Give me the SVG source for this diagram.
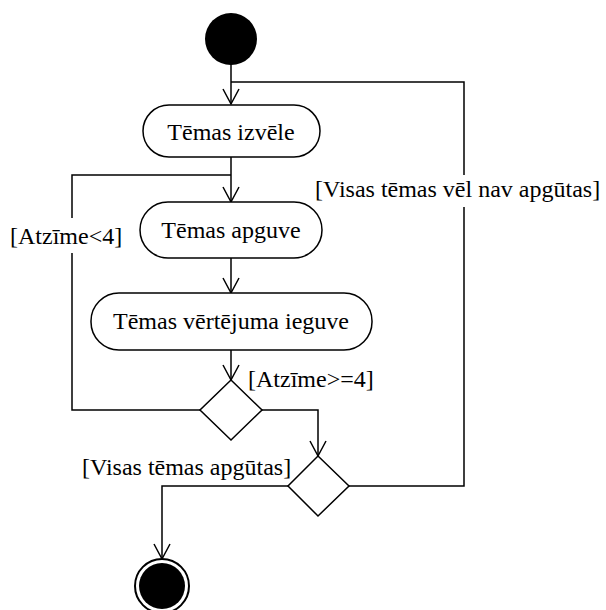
<svg xmlns="http://www.w3.org/2000/svg" width="606" height="610" viewBox="0 0 606 610">
  <style>
    .node { fill: #fff; stroke: #000; stroke-width: 1.5; }
    .lbl { font-family: "Liberation Serif", "Times New Roman", serif; font-size: 24px; fill: #000; }
    .mid { text-anchor: middle; }
    .edge { fill: none; stroke: #000; stroke-width: 1.5; }
  </style>
  <defs>
    <marker id="arr" viewBox="-16 -9 18 18" refX="0" refY="0" markerWidth="18" markerHeight="18" markerUnits="userSpaceOnUse" orient="auto">
      <path d="M-15,-8 L0,0 L-15,8" fill="none" stroke="#000" stroke-width="1.5"/>
    </marker>
  </defs>

  <!-- connectors -->
  <g id="edges">
    <path class="edge" d="M231,64 V104" marker-end="url(#arr)"/>
    <path class="edge" d="M231,157 V202" marker-end="url(#arr)"/>
    <path class="edge" d="M231,258 V293" marker-end="url(#arr)"/>
    <path class="edge" d="M231,350 V380" marker-end="url(#arr)"/>
    <!-- retry loop -->
    <path class="edge" d="M200,410 H72 V253"/>
    <path class="edge" d="M72,218 V175 H231"/>
    <!-- pass to second decision -->
    <path class="edge" d="M262,410 H318 V456" marker-end="url(#arr)"/>
    <!-- back to topic choice -->
    <path class="edge" d="M349,486 H464 V207"/>
    <path class="edge" d="M464,175 V82 H231"/>
    <!-- to final -->
    <path class="edge" d="M288,486 H162 V559" marker-end="url(#arr)"/>
  </g>

  <g id="start">
    <circle cx="231" cy="39" r="26" fill="#000"/>
  </g>

  <g id="tema-izvele">
    <rect class="node" x="143" y="105" width="177" height="52" rx="26"/>
    <text class="lbl mid" x="231" y="140">Tēmas izvēle</text>
  </g>

  <g id="tema-apguve">
    <rect class="node" x="140" y="202" width="182" height="56" rx="28"/>
    <text class="lbl mid" x="231" y="238">Tēmas apguve</text>
  </g>

  <g id="vertejums">
    <rect class="node" x="91" y="293" width="281" height="57" rx="28"/>
    <text class="lbl mid" x="231" y="329">Tēmas vērtējuma ieguve</text>
  </g>

  <g id="decision-atzime">
    <polygon class="node" points="231,380 262,410 231,440 200,410"/>
  </g>

  <g id="decision-visas">
    <polygon class="node" points="318,456 349,486 318,516 288,486"/>
  </g>

  <g id="end">
    <circle cx="162" cy="586" r="27" fill="#fff" stroke="#000" stroke-width="2"/>
    <circle cx="162" cy="586" r="23" fill="#000"/>
  </g>

  <g id="guards">
    <text class="lbl" x="10" y="244">[Atzīme&lt;4]</text>
    <text class="lbl" x="248" y="387">[Atzīme&gt;=4]</text>
    <text class="lbl" x="82" y="475">[Visas tēmas apgūtas]</text>
    <text class="lbl" x="315" y="197">[Visas tēmas vēl nav apgūtas]</text>
  </g>
</svg>
